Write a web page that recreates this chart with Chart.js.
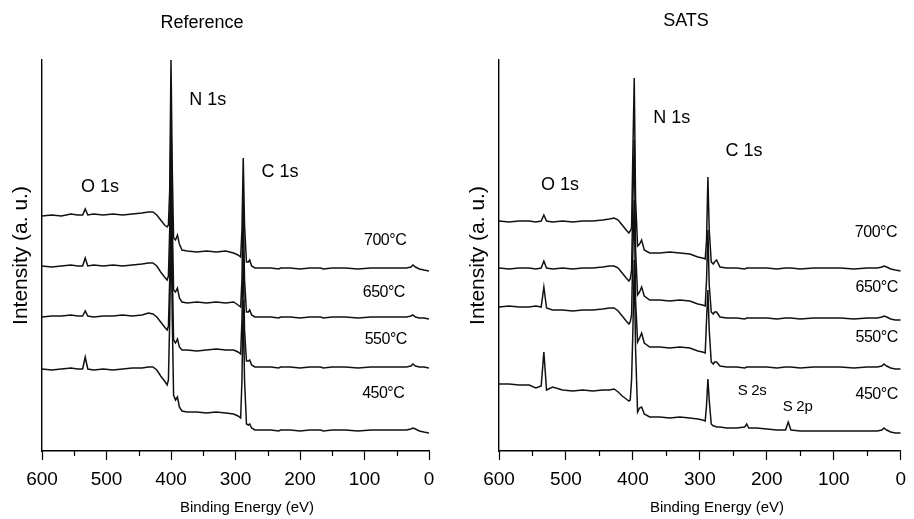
<!DOCTYPE html>
<html>
<head>
<meta charset="utf-8">
<script src="https://cdn.jsdelivr.net/npm/chart.js@4.4.1/dist/chart.umd.min.js"></script>
<style>
  html, body { margin: 0; padding: 0; background: #fff; }
  #wrap { position: relative; width: 914px; height: 519px; overflow: hidden; }
  .panel { position: absolute; top: 0; width: 457px; height: 519px; }
</style>
</head>
<body>
<div id="wrap">
  <div class="panel" style="left:0"><canvas id="refChart"></canvas></div>
  <div class="panel" style="left:457px"><canvas id="satsChart"></canvas></div>
</div>
<script>
// binding energies (eV) shared by every spectrum
const energies = [600,585,570,555,545,537,533,529,520,505,490,475,460,445,435,428,422,416,410,406,
  404,402,400,398,396,393,390,387,383,375,360,345,330,315,303,296,292,290,288,286,
  283,280,278,275,270,260,245,233,230,227,215,200,185,172,168,164,150,130,110,90,
  70,50,35,28,25,21,15,8,0];

// Reference sample, intensity (a. u., stacked)
const ref700 = [235,236,235,237,236,236,242,236,237,236, 237,236,237,238,239,239,236,231,226,224,
  226,261,391,281,213,211,216,207,201,200, 199,200,199,200,198,196,194,221,293,226,
  189,189,191,185,183,183,183,182,183,183, 183,182,183,183,183,182,183,183,182,183,
  183,183,183,184,186,184,182,181,180];
const ref650 = [185,184,185,186,185,185,193,185,186,185, 186,185,186,187,188,188,185,179,174,171,
  175,221,331,231,161,159,163,153,149,148, 149,148,149,148,149,146,144,171,251,171,
  139,139,141,136,134,134,134,133,134,134, 134,133,134,134,134,133,134,134,133,134,
  134,134,134,135,136,134,133,133,132];
const ref550 = [134,135,135,136,135,135,140,135,134,135, 135,136,135,136,138,137,134,129,124,121,
  125,171,281,181,111,108,112,104,101,101, 100,101,102,101,101,99,97,131,201,121,
  90,90,91,86,84,84,84,83,84,84, 84,83,84,84,84,83,84,84,83,84,
  84,84,84,85,87,85,84,84,83];
const ref450 = [82,81,82,83,82,82,94,82,81,82, 81,82,83,83,84,84,81,75,70,66,
  71,131,231,131,56,51,54,44,40,39, 39,38,39,38,37,35,33,71,151,71,
  27,26,27,23,21,21,21,20,21,21, 21,20,21,21,21,20,21,21,20,21,
  21,21,21,22,23,22,20,19,18];

// SATS sample
const sats700 = [230,229,230,230,229,230,236,230,229,230, 229,230,230,231,232,233,231,226,221,218,
  220,223,301,373,251,205,207,211,201,198, 198,199,198,197,194,193,192,211,274,221,
  189,187,189,191,184,183,183,182,183,183, 183,183,182,183,183,183,182,183,183,183,
  182,183,183,184,185,184,182,181,180];
const sats650 = [183,182,183,183,182,183,190,183,182,183, 182,183,183,184,185,185,183,178,173,170,
  172,181,251,311,201,156,159,164,155,151, 151,150,151,150,147,146,145,171,221,166,
  139,137,139,139,134,133,133,132,133,133, 133,133,132,133,133,133,132,133,133,133,
  132,133,133,134,135,134,132,131,131];
const sats550 = [144,145,144,144,145,144,164,143,141,141, 140,141,141,142,143,143,140,135,130,127,
  129,136,201,251,151,109,113,118,108,104, 104,103,104,103,100,99,98,131,161,121,
  89,87,89,89,85,84,84,83,84,84, 84,84,83,84,84,84,83,84,84,84,
  83,84,84,85,87,85,83,82,82];
const sats450 = [67,67,66,66,63,65,99,61,64,61, 60,61,60,61,61,62,59,55,52,50,
  51,71,121,191,101,39,43,44,37,34, 34,33,34,33,32,31,30,46,72,51,
  27,25,25,24,24,23,23,24,27,23, 23,22,21,21,29,21,20,20,20,20,
  20,20,20,21,23,21,19,18,18];

const tempLabels = ['700°C', '650°C', '550°C', '450°C'];
const peakLabels = ['O 1s', 'N 1s', 'C 1s'];
const sulfurLabels = ['S 2s', 'S 2p'];
const minorTicks = [550, 450, 350, 250, 150, 50];

const FONT = '"Liberation Sans", Arial, sans-serif';

function toPoints(values) {
  return energies.map((e, i) => ({ x: e, y: values[i] }));
}

// titles, minor ticks and peak / temperature labels
const xpsText = {
  id: 'xpsText',
  afterDraw(chart, args, o) {
    const { ctx, chartArea, scales: { x, y } } = chart;
    ctx.save();
    ctx.strokeStyle = '#000';
    ctx.lineWidth = 1.2;
    minorTicks.forEach(v => {
      const px = Math.round(x.getPixelForValue(v)) + 0.5;
      ctx.beginPath();
      ctx.moveTo(px, chartArea.bottom);
      ctx.lineTo(px, chartArea.bottom + 5);
      ctx.stroke();
    });

    ctx.fillStyle = '#000';
    ctx.textAlign = 'center';
    ctx.textBaseline = 'middle';
    ctx.font = '18px ' + FONT;
    ctx.fillText(o.title, o.titleX, o.titleY);
    ctx.font = '15px ' + FONT;
    ctx.fillText('Binding Energy (eV)', o.xTitleX, 508);

    ctx.save();
    ctx.translate(21, (chartArea.top + chartArea.bottom) / 2);
    ctx.rotate(-Math.PI / 2);
    ctx.font = '21px ' + FONT;
    ctx.fillText('Intensity (a. u.)', 0, 0);
    ctx.restore();

    o.labels.forEach(l => {
      ctx.font = l.size + 'px ' + FONT;
      ctx.letterSpacing = l.spacing || '0px';
      ctx.fillText(l.text, x.getPixelForValue(l.at[0]), y.getPixelForValue(l.at[1]));
    });
    ctx.restore();
  }
};

function makeChart(id, series, text, padRight) {
  return new Chart(document.getElementById(id).getContext('2d'), {
    type: 'line',
    data: {
      datasets: series.map((s, i) => ({
        label: tempLabels[i],
        data: toPoints(s),
        borderColor: '#111',
        borderWidth: 1.5,
        pointRadius: 0,
        fill: false,
        tension: 0
      }))
    },
    options: {
      responsive: true,
      maintainAspectRatio: false,
      animation: false,
      layout: { padding: { top: 60, right: padRight, left: 0, bottom: 0 } },
      plugins: {
        legend: { display: false },
        tooltip: { enabled: false },
        xpsText: text
      },
      scales: {
        x: {
          type: 'linear',
          reverse: true,
          min: 0,
          max: 600,
          afterFit: s => { s.height = 68; },
          grid: { display: true, drawOnChartArea: false, drawTicks: true, tickLength: 9, tickColor: '#000', tickWidth: 1.2 },
          border: { display: true, color: '#000', width: 1.4 },
          ticks: { stepSize: 100, color: '#000', font: { family: FONT, size: 19 }, padding: 8, maxRotation: 0, autoSkip: false }
        },
        y: {
          min: 0,
          max: 391,
          afterFit: s => { s.width = 42; },
          ticks: { display: false },
          grid: { display: false },
          border: { display: true, color: '#000', width: 1.4 }
        }
      }
    },
    plugins: [xpsText]
  });
}

makeChart('refChart', [ref700, ref650, ref550, ref450], {
  title: 'Reference', titleX: 202, titleY: 23, xTitleX: 247,
  labels: [
    { text: peakLabels[0], at: [510, 264], size: 18 },
    { text: peakLabels[1], at: [343, 351], size: 18 },
    { text: peakLabels[2], at: [231, 279], size: 18 },
    { text: tempLabels[0], at: [68, 210], size: 16, spacing: '-0.5px' },
    { text: tempLabels[1], at: [70, 158], size: 16, spacing: '-0.5px' },
    { text: tempLabels[2], at: [67, 111], size: 16, spacing: '-0.5px' },
    { text: tempLabels[3], at: [71, 57], size: 16, spacing: '-0.5px' }
  ]
}, 28);

makeChart('satsChart', [sats700, sats650, sats550, sats450], {
  title: 'SATS', titleX: 229, titleY: 21, xTitleX: 260,
  labels: [
    { text: peakLabels[0], at: [509, 266], size: 18 },
    { text: peakLabels[1], at: [342, 333], size: 18 },
    { text: peakLabels[2], at: [234, 300], size: 18 },
    { text: tempLabels[0], at: [37, 218], size: 16, spacing: '-0.5px' },
    { text: tempLabels[1], at: [36, 163], size: 16, spacing: '-0.5px' },
    { text: tempLabels[2], at: [36, 113], size: 16, spacing: '-0.5px' },
    { text: tempLabels[3], at: [36, 56], size: 16, spacing: '-0.5px' },
    { text: sulfurLabels[0], at: [222, 60], size: 15, spacing: '-0.3px' },
    { text: sulfurLabels[1], at: [154, 44], size: 15, spacing: '-0.3px' }
  ]
}, 5);
</script>
</body>
</html>
